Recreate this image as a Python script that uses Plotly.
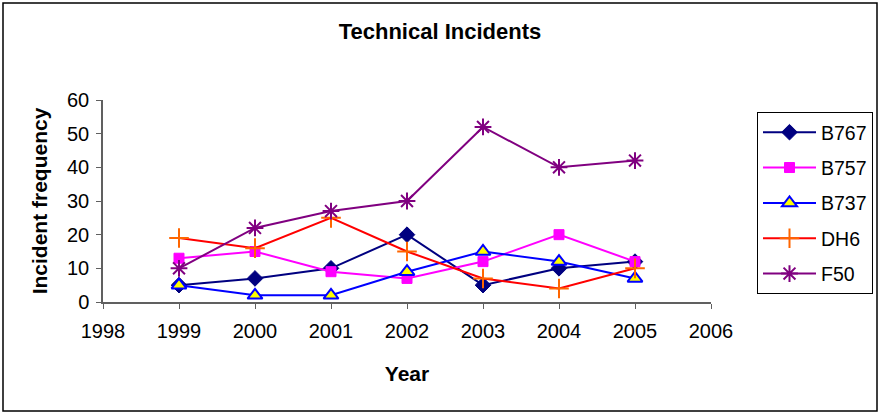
import plotly.graph_objects as go

years = [1999, 2000, 2001, 2002, 2003, 2004, 2005]
b767 = [5, 7, 10, 20, 5, 10, 12]
b757 = [13, 15, 9, 7, 12, 20, 12]
b737 = [5, 2, 2, 9, 15, 12, 7]
dh6 = [19, 16, 25, 15, 7, 4, 10]
f50 = [10, 22, 27, 30, 52, 40, 42]

x_ticks = list(range(1998, 2007))
y_ticks = [0, 10, 20, 30, 40, 50, 60]

FONT = "Liberation Sans, Arial, sans-serif"
W, H = 880, 414

series = [
    dict(name="B767", y=b767, line="#000080",
         marker=dict(symbol="diamond", size=12, color="#000080",
                     line=dict(color="#000080", width=1))),
    dict(name="B757", y=b757, line="#FF00FF",
         marker=dict(symbol="square", size=10, color="#FF00FF",
                     line=dict(color="#FF00FF", width=1))),
    dict(name="B737", y=b737, line="#0000FF",
         marker=dict(symbol="triangle-up", size=13, color="#FFFF00",
                     line=dict(color="#0000FF", width=2))),
    dict(name="DH6", y=dh6, line="#FF0000",
         marker=dict(symbol="cross-thin-open", size=14, color="#FF6600",
                     line=dict(color="#FF6600", width=2))),
    dict(name="F50", y=f50, line="#800080",
         marker=dict(symbol="asterisk-open", size=14, color="#800080",
                     line=dict(color="#800080", width=2))),
]

fig = go.Figure()
for s in series:
    fig.add_trace(go.Scatter(
        x=years, y=s["y"], name=s["name"], mode="lines+markers",
        legendgroup=s["name"],
        line=dict(color=s["line"], width=2),
        marker=s["marker"],
    ))

fig.update_layout(
    width=W, height=H,
    margin=dict(l=103, r=169, t=100, b=112, autoexpand=False),
    paper_bgcolor="white", plot_bgcolor="white",
    font=dict(family=FONT, size=19.5, color="black"),
    title=dict(text="<b>Technical Incidents</b>", x=0.5, xref="container",
               xanchor="center", y=1 - 31 / H, yref="container",
               yanchor="middle", font=dict(size=22, family=FONT)),
    showlegend=True,
    legend=dict(xref="container", yref="container",
                x=757 / W, xanchor="left",
                y=1 - 112 / H, yanchor="top",
                bordercolor="black", borderwidth=1, bgcolor="white",
                tracegroupgap=7, font=dict(size=19.5, family=FONT),
                itemwidth=53),
    xaxis=dict(range=[1998, 2006], tickvals=x_ticks,
               ticktext=[str(v) for v in x_ticks],
               showgrid=False, zeroline=False, showline=True,
               linecolor="#606060", linewidth=1.5,
               ticks="outside", ticklen=5, tickcolor="#606060",
               tickfont=dict(size=20), ticklabelstandoff=5,
               title=dict(text="<b>Year</b>", standoff=26,
                          font=dict(size=21, family=FONT))),
    yaxis=dict(range=[0, 60], tickvals=y_ticks,
               showgrid=False, zeroline=False, showline=True,
               linecolor="#606060", linewidth=1.5,
               ticks="outside", ticklen=5, tickcolor="#606060",
               tickfont=dict(size=20), ticklabelstandoff=3,
               title=dict(text="<b>Incident frequency</b>", standoff=14,
                          font=dict(size=21, family=FONT))),
    shapes=[dict(type="rect", xref="paper", yref="paper",
                 x0=(3 - 103) / 608, x1=(877 - 103) / 608,
                 y0=(302 - 411) / 202, y1=(302 - 3) / 202,
                 line=dict(color="black", width=1.5), layer="below")],
)

fig.write_html("out.html")
